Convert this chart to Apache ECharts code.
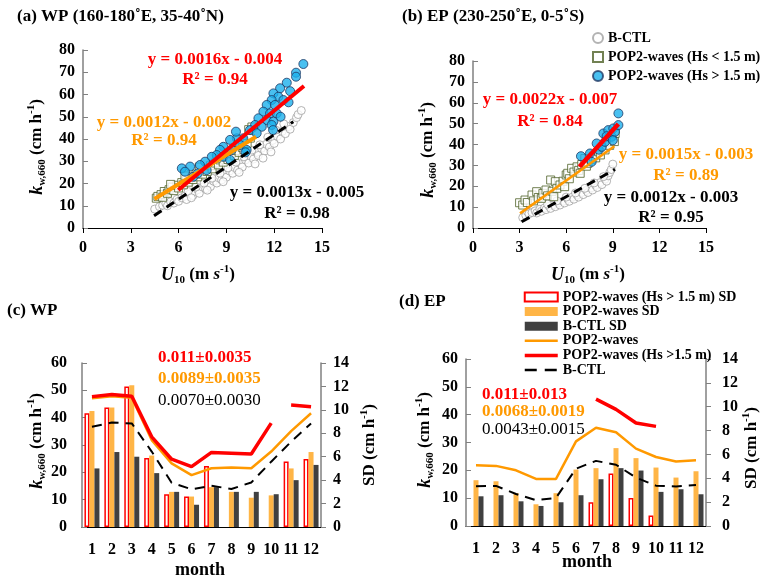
<!DOCTYPE html>
<html>
<head>
<meta charset="utf-8">
<script src="https://cdn.jsdelivr.net/npm/echarts@6/dist/echarts.min.js"></script>
<style>
html,body{margin:0;padding:0;background:#fff;}
#main{width:771px;height:583px;}
</style>
</head>
<body>
<div id="main"></div>
<script>
// ---- data ----
var months = ['1','2','3','4','5','6','7','8','9','10','11','12'];

// (a) WP scatter [U10, k]
var wpCtlPts = [[4.5,8.5],[4.8,9.6],[5.0,10.2],[5.2,11.0],[5.3,10.0],[5.5,11.8],[5.7,11.2],[5.9,12.9],[6.0,12.0],[6.2,13.6],[6.4,14.4],[6.5,12.8],[6.7,15.3],[6.9,14.6],[7.0,16.4],[7.2,17.2],[7.3,15.6],[7.5,18.4],[7.7,17.6],[7.9,19.8],[8.0,18.6],[8.2,21.0],[8.4,20.2],[8.5,22.6],[8.7,21.6],[8.9,24.0],[9.0,22.8],[9.2,25.6],[9.4,24.6],[9.5,27.2],[9.7,26.0],[9.9,28.8],[10.0,27.4],[10.2,30.6],[10.4,29.2],[10.5,32.4],[10.7,31.0],[10.9,34.0],[11.0,32.6],[11.2,35.8],[11.4,34.6],[11.5,37.6],[11.7,36.4],[11.9,39.4],[12.0,38.0],[12.2,41.2],[12.4,40.0],[12.5,43.4],[12.7,42.4],[12.9,45.6],[13.0,44.4],[13.2,47.4],[13.4,49.6],[13.5,51.0],[13.7,52.8],[12.6,46.8],[12.1,44.0],[11.6,40.8],[11.1,37.4],[10.6,35.0],[10.1,32.0],[9.6,29.6],[9.1,27.0],[8.6,24.6],[8.1,22.4],[7.6,20.2],[7.1,18.4],[6.6,16.4],[10.8,28.8],[11.3,31.4],[11.8,34.2],[9.8,25.0],[8.8,20.8],[7.8,17.0],[6.8,13.6]];
var wpLowPts = [[4.6,13.4],[4.7,14.2],[4.9,15.0],[5.0,13.8],[5.1,16.4],[5.3,15.6],[5.4,17.2],[5.6,18.4],[5.7,16.8],[5.9,19.2],[6.0,18.0],[6.2,20.4],[6.3,19.4],[6.5,21.8],[6.6,20.6],[6.8,23.0],[6.9,21.8],[7.1,24.2],[7.2,23.0],[7.4,25.6],[7.5,24.2],[7.7,26.8],[7.8,25.4],[8.0,28.0],[8.1,26.6],[8.3,29.2],[8.5,28.4],[8.6,30.6],[8.8,29.6],[9.0,32.0],[9.1,30.8],[9.3,33.4],[9.5,32.6],[9.6,34.8],[9.8,34.0],[10.0,36.2],[10.1,35.2],[10.3,38.0],[10.4,44.2],[10.6,45.4],[10.5,40.4],[7.3,27.4],[6.4,23.4],[5.5,19.6],[8.4,31.4]];
var wpHighPts = [[13.83,73.7],[13.37,69.8],[13.37,68.0],[12.79,65.3],[12.37,62.8],[11.95,60.5],[12.26,59.0],[12.58,57.5],[11.84,57.5],[11.53,55.3],[12.05,55.3],[11.32,52.3],[11.74,51.5],[12.16,51.5],[11.01,49.3],[11.53,48.5],[11.95,47.8],[10.8,46.3],[11.22,45.5],[11.84,46.3],[10.48,44.0],[10.9,42.6],[10.06,40.3],[9.65,40.3],[9.23,39.6],[9.86,37.3],[8.81,36.5],[9.33,35.1],[8.6,35.1],[8.39,32.8],[8.08,32.0],[8.81,32.0],[7.66,29.8],[7.34,28.3],[6.72,27.6],[6.2,26.8],[6.4,25.3],[6.92,23.0],[7.76,26.0],[9.23,30.6],[10.27,35.1],[11.93,44.0],[12.4,50.0],[9.6,43.3],[10.2,34.0],[13.0,61.5],[12.9,56.5],[7.2,24.5]];

// (b) EP scatter
var epCtlPts = [[3.2,5.0],[3.4,6.0],[3.5,7.8],[3.6,6.8],[3.8,7.4],[4.0,8.2],[4.1,7.2],[4.3,9.0],[4.4,8.0],[4.6,9.6],[4.7,8.8],[4.9,10.4],[5.0,9.4],[5.2,11.2],[5.3,10.2],[5.5,12.0],[5.6,11.0],[5.8,12.8],[5.9,12.0],[6.1,13.8],[6.2,12.8],[6.4,14.8],[6.5,13.8],[6.7,15.8],[6.8,14.8],[7.0,17.0],[7.1,16.0],[7.3,18.0],[7.4,17.0],[7.6,19.2],[7.7,18.2],[7.9,20.4],[8.0,19.4],[8.2,21.8],[8.3,20.8],[8.5,23.4],[8.6,22.4],[8.7,25.0],[8.8,26.6],[8.9,28.0],[9.0,30.6],[8.4,24.6],[7.8,21.6],[7.2,19.0],[6.6,16.8],[6.0,14.8],[5.4,13.0],[4.8,11.4]];
var epLowPts = [[3.0,12.1],[3.2,11.0],[3.35,13.4],[3.5,12.2],[3.8,15.8],[3.9,13.0],[4.1,17.4],[4.2,14.6],[4.4,14.2],[4.5,16.6],[4.7,18.2],[4.8,15.4],[5.0,23.0],[5.1,17.6],[5.3,22.2],[5.4,19.0],[5.6,20.6],[5.2,15.0],[5.8,22.4],[5.9,19.8],[6.0,25.4],[6.1,26.2],[6.2,23.6],[6.35,28.6],[6.5,26.8],[6.7,29.3],[6.8,27.6],[6.9,26.2],[7.0,30.4],[7.2,33.3],[7.3,29.6],[7.4,31.0],[7.6,32.8],[7.75,34.1],[7.9,33.6],[8.1,36.5],[8.2,35.0],[8.4,38.9],[8.5,37.4],[8.7,41.3],[8.8,39.6],[9.0,42.9],[9.1,41.4],[9.15,45.3]];
var epHighPts = [[6.95,34.4],[7.53,35.7],[7.64,31.7],[7.96,40.5],[8.1,37.5],[8.29,38.9],[8.39,45.3],[8.5,41.3],[8.71,46.9],[8.93,43.7],[9.03,47.7],[9.14,46.1],[9.36,49.3],[9.36,54.9],[8.6,44.0],[9.0,42.0]];

// fitted lines, end points
var wpFitHigh = [[5.98,17.1],[13.87,63.8]];
var wpFitLow = [[4.48,13.0],[10.86,41.0]];
var wpFitCtl = [[4.46,5.5],[13.2,47.8]];
var epFitHigh = [[6.85,29.3],[9.36,49.8]];
var epFitLow = [[3.03,7.0],[9.1,39.2]];
var epFitCtl = [[3.13,3.0],[9.14,28.1]];

// (c) WP monthly
var wpHsSD = [9.7,10.2,12.0,5.9,2.8,2.6,5.2,'-','-','-',5.6,5.8];
var wpWavesSD = [9.9,10.2,12.1,6.1,3.0,2.6,3.4,3.0,2.5,2.7,5.0,6.4];
var wpCtlSD = [5.0,6.4,6.0,4.6,3.0,1.9,3.4,3.0,3.0,2.8,4.0,5.3];
var wpWaves = [47.1,47.8,47.3,31.8,23.3,19.0,21.5,21.8,21.5,27.6,35.1,41.6];
var wpHs = [47.7,48.5,47.8,33.0,24.8,22.1,27.3,27.0,26.7,38.0,'-','-'];
var wpHsEnd = ['-','-','-','-','-','-','-','-','-','-',44.6,44.0];
var wpCtl = [36.7,38.2,37.9,27.6,16.2,13.8,15.1,13.9,16.3,23.9,31.2,37.9];

// (d) EP monthly
var epHsSD = ['-','-','-','-','-','-',2.0,4.4,2.35,0.87,'-','-'];
var epWavesSD = [3.84,3.75,2.75,1.82,2.75,4.73,4.85,6.53,5.69,4.90,4.06,4.59];
var epCtlSD = [2.49,2.58,2.07,1.68,1.99,2.58,3.92,4.85,4.65,2.86,3.08,2.66];
var epWaves = [21.8,21.6,20.0,16.9,16.9,30.4,35.3,33.7,27.8,24.8,23.2,23.6];
var epHs = ['-','-','-','-','-','-',45.6,41.9,37.0,35.8,'-','-'];
var epCtl = [14.3,14.4,11.5,9.3,10.1,20.6,23.4,22.0,17.4,14.5,14.2,14.7];

// ---- styles ----
var FONT = 'Liberation Serif';
var RED = '#ff0000', ORANGE = '#ff9900', ORANGE_BAR = '#ffb546', DARK = '#404040', GRAY = '#808080';
var NONE = 'rgba(0,0,0,0)';

var legendNames = {
    ctlPts:'B-CTL', lowPts:'POP2-waves (Hs < 1.5 m)', highPts:'POP2-waves (Hs > 1.5 m)',
    hsSD:'POP2-waves (Hs > 1.5 m) SD', wavesSD:'POP2-waves SD', ctlSD:'B-CTL SD',
    wavesLine:'POP2-waves', hsLine:'POP2-waves (Hs >1.5 m)', ctlLine:'B-CTL'
};

var rich = {
    i:{fontFamily:FONT, fontStyle:'italic', fontWeight:'bold', fontSize:18, lineHeight:22},
    n:{fontFamily:FONT, fontWeight:'bold', fontSize:17, lineHeight:22},
    s:{fontFamily:FONT, fontWeight:'bold', fontSize:11, lineHeight:11, verticalAlign:'bottom'},
    p:{fontFamily:FONT, fontWeight:'bold', fontSize:11, lineHeight:11, verticalAlign:'top'},
    si:{fontFamily:FONT, fontStyle:'italic', fontWeight:'bold', fontSize:17, lineHeight:22}
};
var kName = '{i|k}{s|w,660}{n| (cm h}{p|-1}{n|)}';
var sdName = '{n|SD (cm h}{p|-1}{n|)}';
var uName = '{i|U}{s|10}{n| (m }{si|s}{p|-1}{n|)}';

function txt(x, y, text, color, opt){
    opt = opt || {};
    return {
        type:'text', x:x, y:y, rotation:opt.rot || 0, z:100,
        style:{
            text:text, fill:color || '#000', align:opt.align || 'center', verticalAlign:'middle',
            fontFamily:FONT, fontWeight:opt.weight || 'bold', fontSize:opt.size || 17,
            rich:opt.rich
        }
    };
}

function valueX(grid, margin){
    return {
        type:'value', gridIndex:grid, min:0, max:15, interval:3,
        axisLine:{show:true, onZero:false, lineStyle:{color:'#000', width:1}},
        axisTick:{show:true, inside:false, length:5, lineStyle:{color:'#000'}},
        axisLabel:{margin:margin, color:'#000', fontFamily:FONT, fontWeight:'bold', fontSize:16},
        splitLine:{show:false}
    };
}
function valueY(grid, max, interval, pos, margin, inside){
    return {
        type:'value', gridIndex:grid, min:0, max:max, interval:interval, position:pos,
        axisLine:{show:true, onZero:false, lineStyle:{color:GRAY, width:1.5}},
        axisTick:{show:true, inside:inside, length:5, lineStyle:{color:GRAY}},
        axisLabel:{margin:margin, color:'#000', fontFamily:FONT, fontWeight:'bold', fontSize:16},
        splitLine:{show:false}
    };
}
function monthX(grid){
    return {
        type:'category', gridIndex:grid, data:months, boundaryGap:true,
        axisLine:{show:true, lineStyle:{color:'#000', width:1}},
        axisTick:{show:false},
        axisLabel:{margin:15, interval:0, color:'#000', fontFamily:FONT, fontWeight:'bold', fontSize:16},
        splitLine:{show:false}
    };
}

function scatterSet(xi, yi, ctl, low, high){
    return [
        {name:'ctlPts', type:'scatter', xAxisIndex:xi, yAxisIndex:yi, data:ctl, symbol:'circle', symbolSize:8,
            itemStyle:{color:'#fff', borderColor:'#a0a0a0', borderWidth:1}, z:2},
        {name:'lowPts', type:'scatter', xAxisIndex:xi, yAxisIndex:yi, data:low, symbol:'rect', symbolSize:8,
            itemStyle:{color:'#fff', borderColor:'#4f6228', borderWidth:1}, z:3},
        {name:'highPts', type:'scatter', xAxisIndex:xi, yAxisIndex:yi, data:high, symbol:'circle', symbolSize:9,
            itemStyle:{color:'#1cb0ec', borderColor:'#1f3864', borderWidth:1}, z:4}
    ];
}
function fitLine(xi, yi, pts, color, width, dashed){
    return {type:'line', xAxisIndex:xi, yAxisIndex:yi, data:pts, symbol:'none', silent:true, z:dashed ? 5 : (color == RED ? 7 : 6),
        lineStyle:{color:color, width:width, type:dashed ? [9,6] : 'solid'}};
}
function monthLine(name, xi, yi, data, color, width, dash, z){
    return {name:name, type:'line', xAxisIndex:xi, yAxisIndex:yi, data:data, symbol:'none', z:z,
        itemStyle:{color:NONE, borderColor:NONE},
        lineStyle:{color:color, width:width, type:dash || 'solid'}};
}
function monthSet(xi, yl, yr, hsSD, wavesSD, ctlSD, waves, hs, ctl){
    return [
        {name:'hsSD', type:'bar', xAxisIndex:xi, yAxisIndex:yr, data:hsSD, barWidth:5, barGap:'0%',
            itemStyle:{color:'#fff', borderColor:RED, borderWidth:1.5}},
        {name:'wavesSD', type:'bar', xAxisIndex:xi, yAxisIndex:yr, data:wavesSD, barWidth:5, barGap:'0%',
            itemStyle:{color:ORANGE_BAR}},
        {name:'ctlSD', type:'bar', xAxisIndex:xi, yAxisIndex:yr, data:ctlSD, barWidth:5, barGap:'0%',
            itemStyle:{color:DARK}},
        monthLine('wavesLine', xi, yl, waves, ORANGE, 2.5, null, 5),
        monthLine('hsLine', xi, yl, hs, RED, 3.5, null, 6),
        monthLine('ctlLine', xi, yl, ctl, '#000', 2, [10,7], 4)
    ];
}

var series = []
    .concat(scatterSet(0, 0, wpCtlPts, wpLowPts, wpHighPts))
    .concat([fitLine(0,0,wpFitCtl,'#000',3,true), fitLine(0,0,wpFitLow,ORANGE,4), fitLine(0,0,wpFitHigh,RED,4)])
    .concat(scatterSet(1, 1, epCtlPts, epLowPts, epHighPts))
    .concat([fitLine(1,1,epFitCtl,'#000',3,true), fitLine(1,1,epFitLow,ORANGE,2.5), fitLine(1,1,epFitHigh,RED,4.5)])
    .concat(monthSet(2, 2, 3, wpHsSD, wpWavesSD, wpCtlSD, wpWaves, wpHs, wpCtl))
    .concat([monthLine('hsLine', 2, 2, wpHsEnd, RED, 3.5, null, 6)])
    .concat(monthSet(3, 4, 5, epHsSD, epWavesSD, epCtlSD, epWaves, epHs, epCtl));

var legendText = {fontFamily:FONT, fontWeight:'bold', fontSize:14, color:'#000', lineHeight:14};

var option = {
    animation:false,
    backgroundColor:'#fff',
    grid:[
        {left:83, top:50, width:239, height:178},
        {left:473, top:61, width:233, height:167},
        {left:82, top:363, width:239, height:164},
        {left:466, top:359, width:240, height:167}
    ],
    xAxis:[valueX(0, 12), valueX(1, 12), monthX(2), monthX(3)],
    yAxis:[
        valueY(0, 80, 10, 'left', 8, true),
        valueY(1, 80, 10, 'left', 8, true),
        valueY(2, 60, 10, 'left', 15, true),
        valueY(2, 14, 2, 'right', 12, false),
        valueY(3, 60, 10, 'left', 8, true),
        valueY(3, 14, 2, 'right', 16, false)
    ],
    legend:[
        {left:592, top:31, orient:'vertical', itemGap:5, itemWidth:10, itemHeight:10, padding:0,
            data:['ctlPts','lowPts','highPts'], textStyle:legendText,
            formatter:function(n){return legendNames[n];}},
        {left:523, top:290, orient:'vertical', itemGap:0.6, itemWidth:33, itemHeight:9, padding:0,
            data:[
                {name:'hsSD', icon:'rect'},{name:'wavesSD', icon:'rect'},{name:'ctlSD', icon:'rect'},
                {name:'wavesLine', itemStyle:{opacity:0}, lineStyle:{width:2.5}},
                {name:'hsLine', itemStyle:{opacity:0}, lineStyle:{width:3.5}},
                {name:'ctlLine', itemStyle:{opacity:0}, lineStyle:{width:2.5, type:[12,8]}}
            ],
            textStyle:legendText,
            formatter:function(n){return legendNames[n];}}
    ],
    graphic:[
        txt(17, 17, '(a) WP (160-180˚E, 35-40˚N)', '#000', {align:'left'}),
        txt(402, 17, '(b) EP (230-250˚E, 0-5˚S)', '#000', {align:'left'}),
        txt(7, 311, '(c) WP', '#000', {align:'left'}),
        txt(399, 302, '(d) EP', '#000', {align:'left'}),

        txt(215, 60, 'y = 0.0016x - 0.004', RED),
        txt(215, 80, 'R² = 0.94', RED),
        txt(164, 123, 'y = 0.0012x - 0.002', ORANGE),
        txt(164, 141, 'R² = 0.94', ORANGE),
        txt(297, 193, 'y = 0.0013x - 0.005', '#000'),
        txt(297, 214, 'R² = 0.98', '#000'),

        txt(550, 100, 'y = 0.0022x - 0.007', RED),
        txt(550, 122, 'R² = 0.84', RED),
        txt(686, 155, 'y = 0.0015x - 0.003', ORANGE),
        txt(686, 176, 'R² = 0.89', ORANGE),
        txt(671, 198, 'y = 0.0012x - 0.003', '#000'),
        txt(671, 218, 'R² = 0.95', '#000'),

        txt(158, 358, '0.011±0.0035', RED, {align:'left'}),
        txt(158, 379, '0.0089±0.0035', ORANGE, {align:'left'}),
        txt(158, 401, '0.0070±0.0030', '#000', {align:'left', weight:'normal'}),
        txt(482, 395, '0.011±0.013', RED, {align:'left'}),
        txt(482, 412, '0.0068±0.0019', ORANGE, {align:'left'}),
        txt(482, 430, '0.0043±0.0015', '#000', {align:'left', weight:'normal'}),

        txt(37, 147, kName, '#000', {rot:Math.PI/2, rich:rich}),
        txt(428, 150, kName, '#000', {rot:Math.PI/2, rich:rich}),
        txt(37, 441, kName, '#000', {rot:Math.PI/2, rich:rich}),
        txt(425, 440, kName, '#000', {rot:Math.PI/2, rich:rich}),
        txt(370, 445, sdName, '#000', {rot:Math.PI/2, rich:rich}),
        txt(752, 448, sdName, '#000', {rot:Math.PI/2, rich:rich}),
        txt(198, 275, uName, '#000', {rich:rich}),
        txt(588, 275, uName, '#000', {rich:rich}),
        txt(200, 570, 'month', '#000', {size:18}),
        txt(587, 562, 'month', '#000', {size:18})
    ],
    series:series
};

var myChart = echarts.init(document.getElementById('main'));
myChart.setOption(option);
</script>
</body>
</html>
